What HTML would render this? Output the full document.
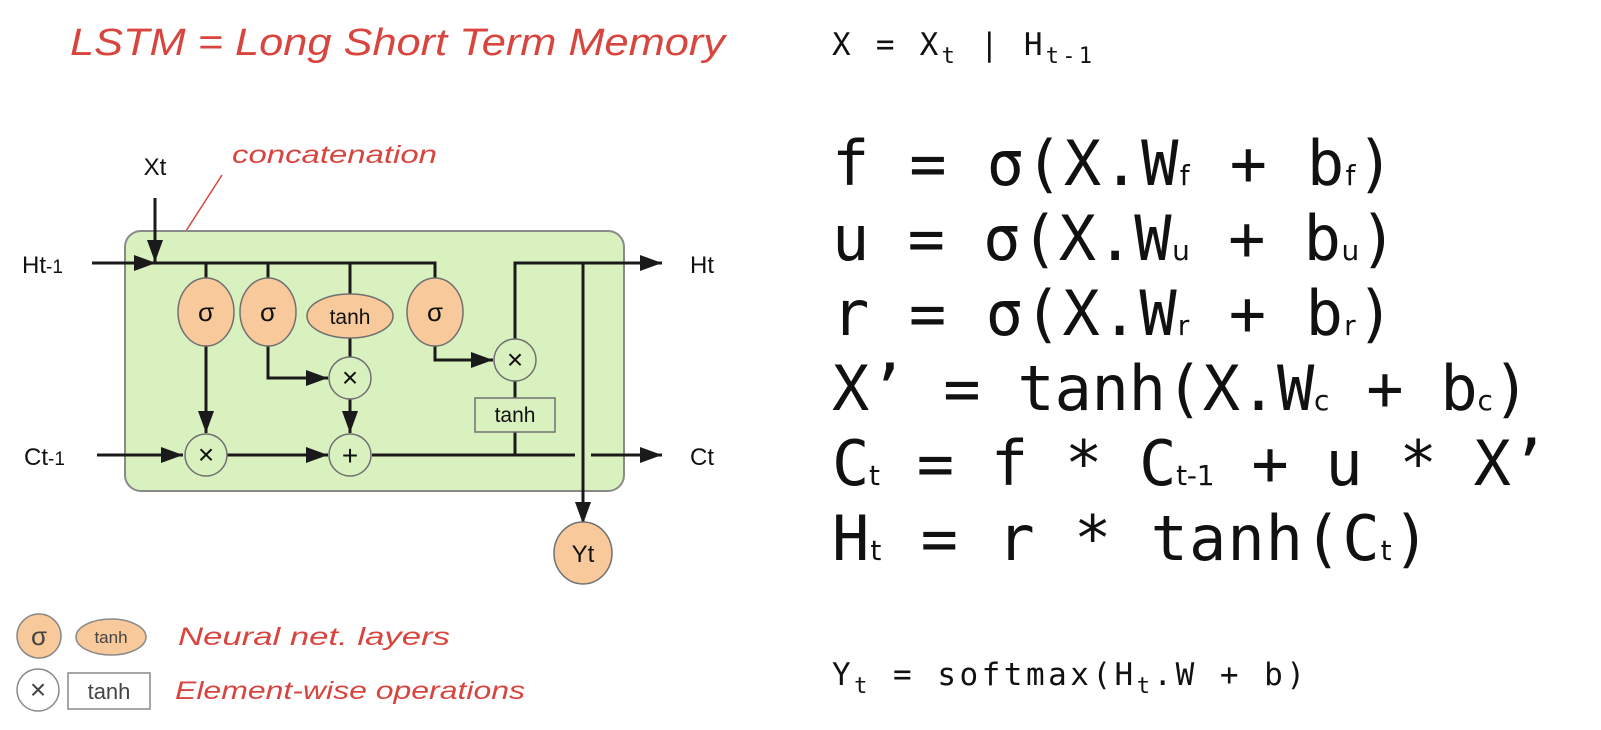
<!DOCTYPE html>
<html><head><meta charset="utf-8"><style>
body{margin:0;background:#fff;}
svg{display:block}
.hw{font-family:"Liberation Sans",sans-serif;font-style:italic;fill:#d8453f;}
.mono{font-family:"DejaVu Sans Mono","Liberation Mono",monospace;fill:#111;}
.sans{font-family:"Liberation Sans",sans-serif;fill:#111;}
.sub{font-family:"DejaVu Sans","Liberation Sans",sans-serif;}
</style></head><body>
<svg width="1601" height="730" viewBox="0 0 1601 730" xmlns="http://www.w3.org/2000/svg">
<defs>
<marker id="b" markerWidth="22" markerHeight="16" refX="22" refY="8" orient="auto" markerUnits="userSpaceOnUse" viewBox="0 0 22 16">
<path d="M0,0 L22,8 L0,16 z" fill="#1a1a1a"/></marker>
</defs>
<text class="hw" x="70" y="55" font-size="38" textLength="655" lengthAdjust="spacingAndGlyphs">LSTM = Long Short Term Memory</text>
<text class="hw" x="232" y="163" font-size="25" textLength="205" lengthAdjust="spacingAndGlyphs">concatenation</text>
<line x1="222" y1="175" x2="175" y2="248" stroke="#d8453f" stroke-width="1.5"/>

<rect x="125" y="231" width="499" height="260" rx="16" fill="#d9f0bf" stroke="#8a8a8a" stroke-width="2"/>
<g stroke="#1a1a1a" stroke-width="3" fill="none">
<line x1="92" y1="263" x2="156" y2="263" marker-end="url(#b)"/>
<line x1="155" y1="198" x2="155" y2="262" marker-end="url(#b)"/>
<polyline points="155,263 435,263 435,280"/>
<line x1="206" y1="263" x2="206" y2="280"/>
<line x1="268" y1="263" x2="268" y2="280"/>
<line x1="350" y1="263" x2="350" y2="294"/>
<line x1="206" y1="345" x2="206" y2="433" marker-end="url(#b)"/>
<polyline points="268,345 268,378 328,378" marker-end="url(#b)"/>
<line x1="350" y1="338" x2="350" y2="358"/>
<line x1="350" y1="398" x2="350" y2="433" marker-end="url(#b)"/>
<polyline points="435,345 435,360 493,360" marker-end="url(#b)"/>
<line x1="515" y1="380" x2="515" y2="398"/>
<line x1="515" y1="432" x2="515" y2="455"/>
<line x1="97" y1="455" x2="183" y2="455" marker-end="url(#b)"/>
<line x1="226" y1="455" x2="328" y2="455" marker-end="url(#b)"/>
<line x1="372" y1="455" x2="575" y2="455"/>
<line x1="591" y1="455" x2="662" y2="455" marker-end="url(#b)"/>
<polyline points="515,340 515,263 662,263" marker-end="url(#b)"/>
<line x1="583" y1="263" x2="583" y2="524" marker-end="url(#b)"/>
</g>
<g stroke="#707070" stroke-width="1.5">
<ellipse cx="206" cy="312" rx="28" ry="34" fill="#f8c99a"/>
<ellipse cx="268" cy="312" rx="28" ry="34" fill="#f8c99a"/>
<ellipse cx="350" cy="316" rx="43" ry="22" fill="#f8c99a"/>
<ellipse cx="435" cy="312" rx="28" ry="34" fill="#f8c99a"/>
<circle cx="206" cy="455" r="21" fill="#d9f0bf"/>
<circle cx="350" cy="455" r="21" fill="#d9f0bf"/>
<circle cx="350" cy="378" r="21" fill="#d9f0bf"/>
<circle cx="515" cy="360" r="21" fill="#d9f0bf"/>
<rect x="475" y="398" width="80" height="34" fill="#d9f0bf"/>
<ellipse cx="583" cy="553" rx="29" ry="31" fill="#f8c99a"/>
</g>
<g class="sans" font-size="26" text-anchor="middle">
<text x="206" y="321">σ</text><text x="268" y="321">σ</text><text x="435" y="321">σ</text>
<text x="350" y="324" font-size="21">tanh</text>
<text x="515" y="422" font-size="21">tanh</text>
<text x="206" y="464" font-size="28">×</text><text x="350" y="387" font-size="28">×</text><text x="515" y="369" font-size="28">×</text>
<text x="350" y="465" font-size="28">+</text>
<text x="583" y="562" font-size="24">Yt</text>
<text x="155" y="175" font-size="24">Xt</text>
</g>
<g class="sans" font-size="24">
<text x="22" y="273">Ht<tspan font-size="19">-1</tspan></text>
<text x="24" y="465">Ct<tspan font-size="19">-1</tspan></text>
<text x="690" y="273">Ht</text>
<text x="690" y="465">Ct</text>
</g>

<g stroke="#8a8a8a" stroke-width="1.5">
<circle cx="39" cy="636" r="22" fill="#f8c99a"/>
<ellipse cx="111" cy="637" rx="35" ry="18" fill="#f8c99a"/>
<circle cx="38" cy="690" r="21" fill="#fff"/>
<rect x="68" y="673" width="82" height="36" fill="#fff"/>
</g>
<g class="sans" font-size="22" text-anchor="middle" style="fill:#444">
<text x="39" y="645" font-size="26">σ</text><text x="111" y="643" font-size="17">tanh</text>
<text x="38" y="699" font-size="28">×</text><text x="109" y="699">tanh</text>
</g>
<text class="hw" x="178" y="645" font-size="25" textLength="272" lengthAdjust="spacingAndGlyphs">Neural net. layers</text>
<text class="hw" x="175" y="699" font-size="25" textLength="350" lengthAdjust="spacingAndGlyphs">Element-wise operations</text>

<text class="mono" x="832" y="55" font-size="31" textLength="260" lengthAdjust="spacing">X = X<tspan font-size="22" dy="8">t</tspan><tspan dy="-8"> | H</tspan><tspan font-size="22" dy="8">t-1</tspan></text>
<g class="mono" font-size="62">
<text x="832" y="185" textLength="562" lengthAdjust="spacing">f = σ(X.W<tspan class="sub" font-size="28">f</tspan> + b<tspan class="sub" font-size="28">f</tspan>)</text>
<text x="832" y="260" textLength="565" lengthAdjust="spacing">u = σ(X.W<tspan class="sub" font-size="28">u</tspan> + b<tspan class="sub" font-size="28">u</tspan>)</text>
<text x="832" y="335" textLength="562" lengthAdjust="spacing">r = σ(X.W<tspan class="sub" font-size="28">r</tspan> + b<tspan class="sub" font-size="28">r</tspan>)</text>
<text x="832" y="410" textLength="698" lengthAdjust="spacing">X’ = tanh(X.W<tspan class="sub" font-size="28">c</tspan> + b<tspan class="sub" font-size="28">c</tspan>)</text>
<text x="832" y="485" textLength="716" lengthAdjust="spacing">C<tspan class="sub" font-size="28">t</tspan> = f * C<tspan class="sub" font-size="28">t-1</tspan> + u * X’</text>
<text x="832" y="560" textLength="598" lengthAdjust="spacing">H<tspan class="sub" font-size="28">t</tspan> = r * tanh(C<tspan class="sub" font-size="28">t</tspan>)</text>
</g>
<text class="mono" x="832" y="685" font-size="31" textLength="473" lengthAdjust="spacing">Y<tspan font-size="22" dy="8">t</tspan><tspan dy="-8"> = softmax(H</tspan><tspan font-size="22" dy="8">t</tspan><tspan dy="-8">.W + b)</tspan></text>
</svg>
</body></html>
